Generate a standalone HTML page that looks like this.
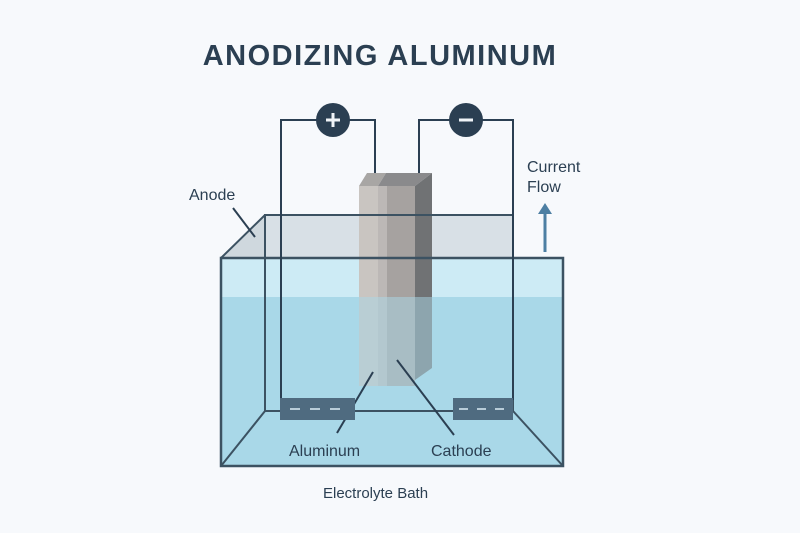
<!DOCTYPE html>
<html><head><style>
body{margin:0;background:#f7f9fc;}
svg{display:block;font-family:"Liberation Sans",sans-serif;}
</style></head><body>
<svg width="800" height="533" viewBox="0 0 800 533">
<rect width="800" height="533" fill="#f7f9fc"/>
<text x="380" y="65" text-anchor="middle" font-size="29" font-weight="bold" fill="#2b3f52" letter-spacing="1.5">ANODIZING ALUMINUM</text>
<polygon points="265,215 513,215 513,258 221,258" fill="#d8e0e6"/>
<polygon points="221,258 265,215 265,280 221,300" fill="#c9d2d9" opacity="0.6"/>
<rect x="221" y="258" width="342" height="208" fill="#a9d8e8"/>
<rect x="221" y="258" width="342" height="39" fill="#cdebf5"/>
<polygon points="359,186 367,173 386,173 378,186" fill="#a8a6a4"/>
<polygon points="378,186 386,173 432,173 415,186" fill="#8a8a8c"/>
<rect x="359" y="186" width="19" height="200" fill="#c9c5c1"/>
<rect x="378" y="186" width="9" height="200" fill="#bcb8b6"/>
<rect x="387" y="186" width="28" height="200" fill="#a6a2a0"/>
<polygon points="415,186 432,173 432,368 415,380" fill="#707274"/>
<rect x="359" y="297" width="73" height="92" fill="#a9d8e8" opacity="0.5"/>
<g stroke="#3c5262" stroke-width="2" fill="none">
<rect x="265" y="215" width="248" height="196"/>
<line x1="221" y1="258" x2="265" y2="215"/>
<line x1="221" y1="466" x2="265" y2="411"/>
<line x1="563" y1="466" x2="513" y2="411"/>
<rect x="221" y="258" width="342" height="208" stroke-width="2.5"/>
</g>
<g stroke="#2b3f52" stroke-width="2" fill="none">
<polyline points="281,400 281,120 375,120 375,173"/>
<polyline points="419,173 419,120 513,120 513,400"/>
<line x1="233" y1="208" x2="255" y2="237"/>
<line x1="373" y1="372" x2="337" y2="433"/>
<line x1="397" y1="360" x2="454" y2="435"/>
</g>
<rect x="280" y="398" width="75" height="22" fill="#4f6b80"/>
<rect x="453" y="398" width="60" height="22" fill="#4f6b80"/>
<g stroke="#b8ccd8" stroke-width="2">
<line x1="290" y1="409" x2="300" y2="409"/><line x1="310" y1="409" x2="320" y2="409"/><line x1="330" y1="409" x2="340" y2="409"/>
<line x1="459" y1="409" x2="468" y2="409"/><line x1="477" y1="409" x2="486" y2="409"/><line x1="495" y1="409" x2="504" y2="409"/>
</g>
<circle cx="333" cy="120" r="17" fill="#2b3f52"/>
<path d="M326 120h14M333 113v14" stroke="#f0f4f8" stroke-width="3"/>
<circle cx="466" cy="120" r="17" fill="#2b3f52"/>
<path d="M459 120h14" stroke="#f0f4f8" stroke-width="3"/>
<line x1="545" y1="252" x2="545" y2="212" stroke="#4d7fa3" stroke-width="3"/>
<polygon points="538,214 552,214 545,203" fill="#4d7fa3"/>
<g fill="#2b3f52" font-size="16">
<text x="189" y="200">Anode</text>
<text x="527" y="172">Current</text>
<text x="527" y="192">Flow</text>
<text x="289" y="456">Aluminum</text>
<text x="431" y="456">Cathode</text>
<text x="323" y="498" font-size="15">Electrolyte Bath</text>
</g>
</svg>
</body></html>
